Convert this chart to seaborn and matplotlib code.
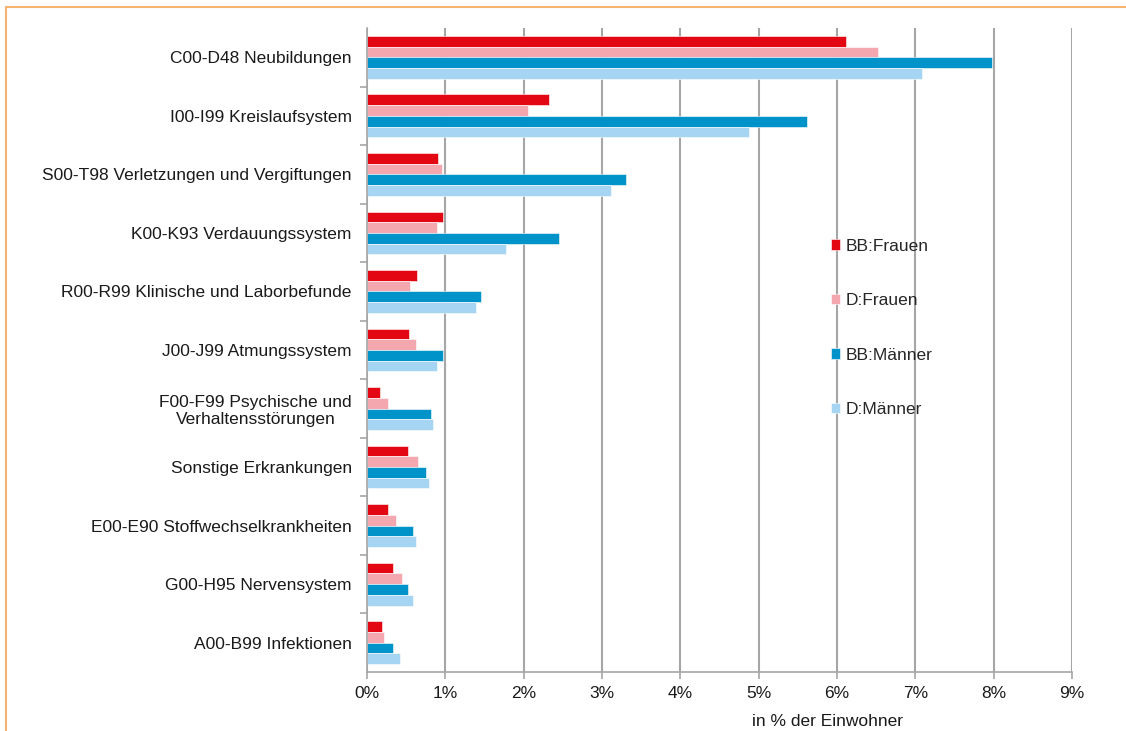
import matplotlib
matplotlib.use("Agg")
import matplotlib.pyplot as plt
import seaborn as sns
import pandas as pd
import numpy as np
from matplotlib.lines import Line2D
from matplotlib.ticker import FuncFormatter, FixedLocator

categories = [
    "C00-D48 Neubildungen",
    "I00-I99 Kreislaufsystem",
    "S00-T98 Verletzungen und Vergiftungen",
    "K00-K93 Verdauungssystem",
    "R00-R99 Klinische und Laborbefunde",
    "J00-J99 Atmungssystem",
    "F00-F99 Psychische und\nVerhaltensstörungen",
    "Sonstige Erkrankungen",
    "E00-E90 Stoffwechselkrankheiten",
    "G00-H95 Nervensystem",
    "A00-B99 Infektionen",
]
series_names = ["BB:Frauen", "D:Frauen", "BB:Männer", "D:Männer"]
bb_frauen = [6.11, 2.32, 0.91, 0.97, 0.64, 0.54, 0.17, 0.52, 0.27, 0.33, 0.19]
d_frauen = [6.52, 2.05, 0.96, 0.89, 0.55, 0.62, 0.27, 0.65, 0.37, 0.45, 0.22]
bb_maenner = [7.98, 5.62, 3.30, 2.45, 1.45, 0.97, 0.82, 0.75, 0.59, 0.52, 0.33]
d_maenner = [7.09, 4.88, 3.11, 1.77, 1.39, 0.89, 0.84, 0.79, 0.62, 0.59, 0.42]
colors = ["#e30613", "#f4a7af", "#0093c9", "#a5d5f2"]
x_ticks = [0, 1, 2, 3, 4, 5, 6, 7, 8, 9]
x_label = "in % der Einwohner"

rows = []
for name, vals in zip(series_names, [bb_frauen, d_frauen, bb_maenner, d_maenner]):
    for c, v in zip(categories, vals):
        rows.append({"Kategorie": c, "Serie": name, "Wert": v})
df = pd.DataFrame(rows)

sns.set_theme(style="white")
plt.rcParams["font.family"] = ["Liberation Sans", "DejaVu Sans"]

FS = 12.5
fig = plt.figure(figsize=(11.26, 7.31), dpi=100)
ax = fig.add_axes([367 / 1126, 1 - 672 / 731, (1072 - 367) / 1126, (672 - 28) / 731])

sns.barplot(data=df, y="Kategorie", x="Wert", hue="Serie", order=categories,
            hue_order=series_names, palette=colors, orient="h", width=0.73,
            ax=ax, edgecolor="white", linewidth=0.4, saturation=1, errorbar=None)

ax.set_xlim(0, 9)
ax.set_ylim(len(categories) - 0.5, -0.5)
ax.xaxis.set_major_locator(FixedLocator(x_ticks))
ax.xaxis.set_major_formatter(FuncFormatter(lambda v, p: f"{int(v)}%"))
ax.set_axisbelow(True)
ax.grid(axis="y", visible=False)
ax.xaxis.grid(True, color="#a6a6a6", linewidth=1.5)
for s in ["top", "right"]:
    ax.spines[s].set_visible(False)
for s in ["left", "bottom"]:
    ax.spines[s].set_color("#a6a6a6")
    ax.spines[s].set_linewidth(1.2)

ax.tick_params(axis="x", direction="out", length=5, width=1.2, color="#a6a6a6",
               labelsize=FS, labelcolor="#1a1a1a", pad=5, bottom=True)
ax.tick_params(axis="y", which="major", length=0, labelsize=FS, labelcolor="#1a1a1a", pad=11)
ax.yaxis.set_minor_locator(FixedLocator(np.arange(0.5, len(categories) - 1, 1.0)))
ax.tick_params(axis="y", which="minor", length=5, width=1.2, color="#a6a6a6", left=True)
for lbl in ax.get_yticklabels():
    lbl.set_multialignment("center")

ax.set_ylabel("")
ax.set_xlabel(x_label, fontsize=FS, color="#1a1a1a")
ax.xaxis.set_label_coords((828 - 367) / 705, -0.065)

handles, labels = ax.get_legend_handles_labels()
ax.legend(handles, labels, loc="upper left", bbox_to_anchor=(815 / 1126, 1 - 223 / 731),
          bbox_transform=fig.transFigure, frameon=False, fontsize=FS,
          handlelength=0.55, handleheight=0.55, handletextpad=0.3, labelspacing=2.28)

fig.add_artist(Line2D([6 / 1126, 6 / 1126], [0, 1 - 7 / 731], transform=fig.transFigure,
                      color="#f2b46e", linewidth=1.5))
fig.add_artist(Line2D([6 / 1126, 1], [1 - 7 / 731, 1 - 7 / 731], transform=fig.transFigure,
                      color="#f2b46e", linewidth=1.5))

fig.savefig("out.png", dpi=100)
